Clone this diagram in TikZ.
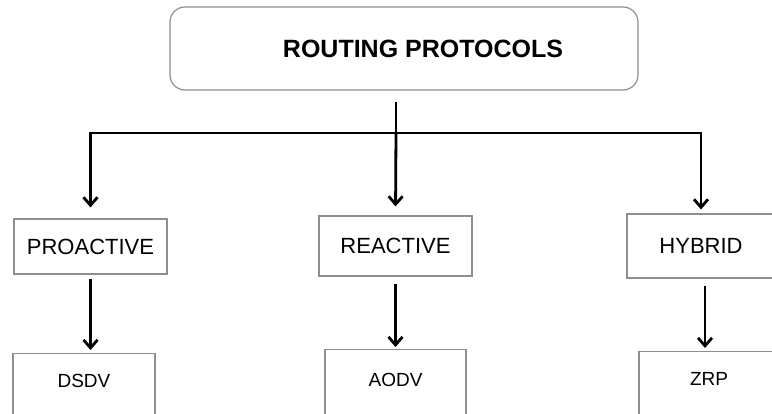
\documentclass[tikz,border=0pt]{standalone}
\usepackage{fontspec}
\setmainfont{Liberation Sans}
\usetikzlibrary{arrows.meta}
\definecolor{boxgray}{HTML}{8E8E8E}
\tikzset{
  root/.style={draw=boxgray,line width=1.2pt,rounded corners=15pt,minimum width=468pt,minimum height=83pt,inner sep=0pt,font=\fontsize{25}{29}\selectfont\bfseries},
  kind/.style={draw=boxgray,line width=1.2pt,inner sep=0pt,font=\fontsize{22}{26}\selectfont},
  leaf/.style={draw=boxgray,line width=1.2pt,inner sep=0pt,anchor=north,text height=34pt,text depth=40pt,font=\fontsize{19}{22}\selectfont},
  link/.style={line width=2.8pt,-{Straight Barb[length=8pt,width=14pt]}}
}
\begin{document}
\begin{tikzpicture}[x=1pt,y=-1pt]
                \useasboundingbox (0,0) rectangle (772,413);
                \clip (0,0) rectangle (772,413);
                % top level
                \node[root] (root) at (404,48.5) {\hspace*{38pt}ROUTING PROTOCOLS};
                \coordinate (stem) at (396,102);
                \coordinate (split) at (396,133);
                % protocol kinds
                \node[kind,minimum width=153pt,minimum height=55pt] (pro) at (90.5,246.5) {PROACTIVE};
                \node[kind,minimum width=153pt,minimum height=60pt] (rea) at (395.5,246) {REACTIVE};
                \node[kind,minimum width=148pt,minimum height=64pt] (hyb) at (701,246) {HYBRID};
                % examples
                \node[leaf,minimum width=142pt] (dsdv) at (84,353) {DSDV};
                \node[leaf,minimum width=141pt,text height=37pt] (aodv) at (395.5,349) {AODV};
                \node[leaf,minimum width=140pt] (zrp) at (709,351) {ZRP};
                % connectors
                \draw[line width=2.8pt] (stem) -- (split);
                \draw[link,shorten >=11pt] (split) -| (pro.north);
                \draw[link,shorten >=9pt] (split) -- (rea.north);
                \draw[link,shorten >=4pt] (split) -| (hyb.north);
                \draw[link,shorten <=4pt,shorten >=3pt] (pro.south) -- (pro.south |- dsdv.north);
                \draw[link,shorten <=7pt,shorten >=2pt] (rea.south) -- (rea.south |- aodv.north);
                \draw[link,shorten <=7pt,shorten >=3pt] ([xshift=4pt]hyb.south) -- ([xshift=4pt]hyb.south |- zrp.north);
            \end{tikzpicture}
\end{document}
